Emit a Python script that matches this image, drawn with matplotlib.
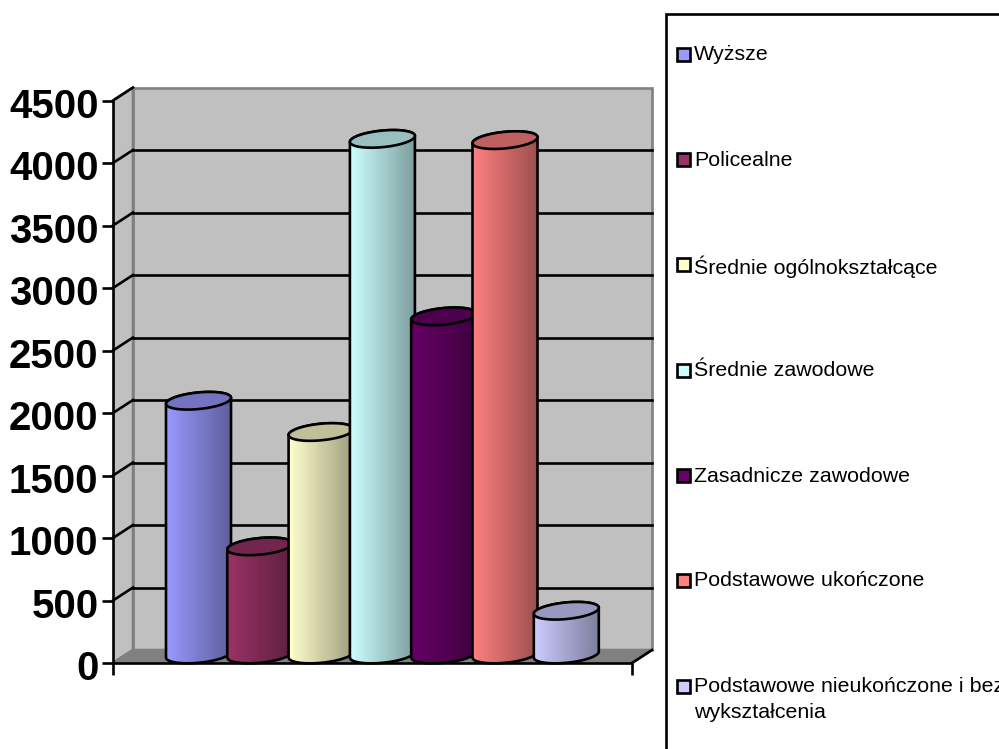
import numpy as np
import matplotlib
matplotlib.use('Agg')
import matplotlib.pyplot as plt
from matplotlib.path import Path
from matplotlib.patches import PathPatch, Polygon, Rectangle
from matplotlib.transforms import ScaledTranslation

plt.rcParams['font.family'] = ['Liberation Sans', 'DejaVu Sans']

labels = ['Wyższe', 'Policealne', 'Średnie ogólnokształcące', 'Średnie zawodowe',
          'Zasadnicze zawodowe', 'Podstawowe ukończone',
          'Podstawowe nieukończone i bez\nwykształcenia']
values = [2030, 865, 1780, 4125, 2705, 4115, 350]
colors = ['#9999FF', '#993366', '#FFFFCC', '#CCFFFF', '#660066', '#FF8080', '#CCCCFF']
yticks = [0, 500, 1000, 1500, 2000, 2500, 3000, 3500, 4000, 4500]

# pixel layout of the old 3D chart
px_x = 61.3
px_y = 0.125
left, right, bottom, top = 113, 652, 663, 87
first_center = 198.5
depth_x = 20 / px_x
depth_y = 13 / px_y
half_w = 32.5 / px_x
ell_b = 8.3 / px_y
ell_s = 3.0 / px_y
lift = 8.5 / px_y
lw = 1.9

fig = plt.figure(figsize=(9.99, 7.49), dpi=100)
ax = fig.add_axes([left / 999, 1 - bottom / 749, (right - left) / 999, (bottom - top) / 749])
ax.patch.set_alpha(0)
x0 = (left - first_center) / px_x
x1 = (right - first_center) / px_x
y1 = (bottom - top) / px_y
fx1 = x1 - depth_x  # right end of the front floor edge
ymax = yticks[-1]

# walls and floor
ax.add_patch(Polygon([(x0 + depth_x, depth_y), (x1, depth_y), (x1, depth_y + ymax), (x0 + depth_x, depth_y + ymax)],
                     fc='#C0C0C0', ec='#808080', lw=lw, zorder=1, clip_on=False))
ax.add_patch(Polygon([(x0, 0), (x0 + depth_x, depth_y), (x0 + depth_x, depth_y + ymax), (x0, ymax)],
                     fc='#C0C0C0', ec='#808080', lw=lw, zorder=1))
ax.add_patch(Polygon([(x0, 0), (fx1, 0), (x1, depth_y), (x0 + depth_x, depth_y)],
                     fc='#808080', ec='#808080', lw=lw, zorder=1))

# gridlines
for v in yticks[1:]:
    ax.plot([x0, x0 + depth_x], [v, v + depth_y], color='black', lw=lw, zorder=2, clip_on=False)
    if v < ymax:
        ax.plot([x0 + depth_x, x1], [v + depth_y, v + depth_y], color='black', lw=lw, zorder=2, clip_on=False)
ax.plot([fx1, x1], [0, depth_y], color='black', lw=lw, zorder=2, clip_on=False)
ax.plot([x0, fx1], [0, 0], color='black', lw=lw, zorder=2, clip_on=False)


def shade(col, f):
    return np.array(matplotlib.colors.to_rgb(col)) * f


# cylinders
t = np.linspace(0, 2 * np.pi, 121)
for i, (v, c) in enumerate(zip(values, colors)):
    z = 3 + i
    yb = lift
    yt = v + lift
    tf = np.linspace(np.pi, 2 * np.pi, 60)  # lower half of an ellipse, left to right
    bx = i + half_w * np.cos(tf)
    by = yb + ell_s * np.cos(tf) + ell_b * np.sin(tf)
    tx = i + half_w * np.cos(tf[::-1])
    ty = yt + ell_s * np.cos(tf[::-1]) - ell_b * np.sin(tf[::-1])
    body = np.vstack([np.c_[bx, by], np.c_[tx, ty], [[bx[0], by[0]]]])
    patch = PathPatch(Path(body), fc='none', ec='black', lw=lw, zorder=z + 0.2, clip_on=False)
    ax.add_patch(patch)
    steps = np.linspace(1.0, 0.62, 32).reshape(1, -1, 1)
    grad = steps * np.array(matplotlib.colors.to_rgb(c)).reshape(1, 1, 3)
    im = ax.imshow(grad, extent=[i - half_w, i + half_w, 0, y1], aspect='auto', zorder=z,
                   interpolation='nearest', clip_on=True)
    im.set_clip_path(patch)
    ex = i + half_w * np.cos(t)
    ey = yt + ell_s * np.cos(t) + ell_b * np.sin(t)
    ax.add_patch(Polygon(np.c_[ex, ey], fc=shade(c, 0.75), ec='black', lw=lw, zorder=z + 0.3, clip_on=False))

ax.set_xlim(x0, x1)
ax.set_ylim(0, y1)

# axes
for s in ['top', 'right', 'bottom']:
    ax.spines[s].set_visible(False)
ax.spines['left'].set_bounds(0, ymax)
ax.spines['left'].set_linewidth(lw)
ax.spines['left'].set_zorder(2.5)
ax.set_yticks(yticks)
ax.set_yticklabels([str(v) for v in yticks], fontsize=29, fontweight='bold')
ax.tick_params(axis='y', length=8, width=lw, pad=2.5)
for tl in ax.get_yticklabels():
    tl.set_transform(tl.get_transform() + ScaledTranslation(0, -1.5 / 72, fig.dpi_scale_trans))
ax.set_xticks([x0, fx1])
ax.set_xticklabels([])
ax.tick_params(axis='x', length=8.5, width=lw)

# legend, box runs off the figure like in the original
leg = fig.add_axes([0, 0, 1, 1])
leg.set_xlim(0, 999)
leg.set_ylim(749, 0)
leg.axis('off')
leg.patch.set_alpha(0)
leg.add_patch(Rectangle((665.5, 13.5), 400, 800, fc='white', ec='black', lw=lw))
ys = [54, 159, 264, 370, 475, 580, 686]
for lab, c, y in zip(labels, colors, ys):
    leg.add_patch(Rectangle((677, y - 6), 13, 13, fc=c, ec='black', lw=lw))
    leg.text(694, y - 8.5, lab, fontsize=15.4, va='top', ha='left', color='black', linespacing=1.4)

fig.savefig('out.png', dpi=100)
